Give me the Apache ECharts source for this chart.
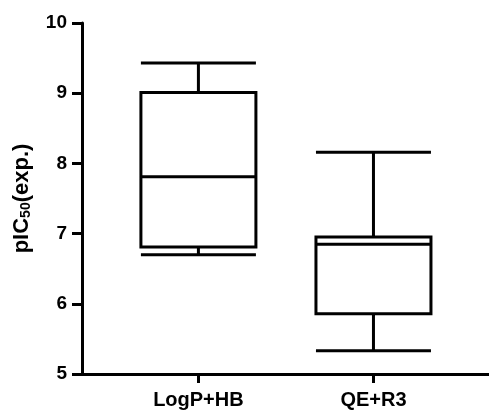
<!DOCTYPE html>
<html>
<head>
<meta charset="utf-8">
<script src="https://cdn.jsdelivr.net/npm/echarts@6/dist/echarts.min.js"></script>
<style>
  html, body { margin: 0; padding: 0; background: #fff; }
  #chart { width: 489px; height: 410px; }
</style>
</head>
<body>
<div id="chart"></div>
<script>
// groups on the x axis and where they sit
const categories = ['LogP+HB', 'QE+R3'];
const positions = [1, 2];
// [min, Q1, median, Q3, max] for each group
const boxLogP = [6.70, 6.81, 7.81, 9.01, 9.43];
const boxQE = [5.33, 5.86, 6.85, 6.95, 8.16];
const yTicks = [5, 6, 7, 8, 9, 10];

const chart = echarts.init(document.getElementById('chart'));

const boxes = [boxLogP, boxQE].map((b, i) => [positions[i]].concat(b));

const font = 'Liberation Sans, Arial, sans-serif';

const option = {
    animation: false,
    grid: { left: 82, right: 0, top: 23, bottom: 36 },
    xAxis: {
        type: 'value',
        min: 0.335,
        max: 2.66,
        splitLine: { show: false },
        axisLine: { show: true, lineStyle: { color: '#000', width: 3 } },
        axisTick: {
            show: true,
            customValues: positions,
            length: 9,
            lineStyle: { color: '#000', width: 3 }
        },
        axisLabel: {
            customValues: positions,
            margin: 16,
            color: '#000',
            fontFamily: font,
            fontWeight: 'bold',
            fontSize: 20,
            formatter: v => categories[positions.indexOf(v)] || ''
        }
    },
    yAxis: {
        type: 'value',
        min: yTicks[0],
        max: yTicks[yTicks.length - 1],
        interval: 1,
        splitLine: { show: false },
        axisLine: { show: true, lineStyle: { color: '#000', width: 3 } },
        axisTick: { show: true, length: 10, lineStyle: { color: '#000', width: 3 } },
        axisLabel: {
            margin: 15,
            color: '#000',
            fontFamily: font,
            fontWeight: 'bold',
            fontSize: 19
        },
        name: 'pIC{sub|50}(exp.)',
        nameLocation: 'middle',
        nameGap: 49,
        nameTextStyle: {
            color: '#000',
            fontFamily: font,
            fontWeight: 'bold',
            fontSize: 22,
            rich: {
                sub: {
                    color: '#000',
                    fontFamily: font,
                    fontWeight: 'bold',
                    fontSize: 14,
                    verticalAlign: 'bottom',
                    padding: [9, 0, 0, 0]
                }
            }
        }
    },
    series: [{
        type: 'boxplot',
        data: boxes,
        boxWidth: [115, 115],
        itemStyle: { color: 'transparent', borderColor: '#000', borderWidth: 3 },
        emphasis: { disabled: true }
    }]
};

chart.setOption(option);
window.addEventListener('resize', chart.resize);
</script>
</body>
</html>
